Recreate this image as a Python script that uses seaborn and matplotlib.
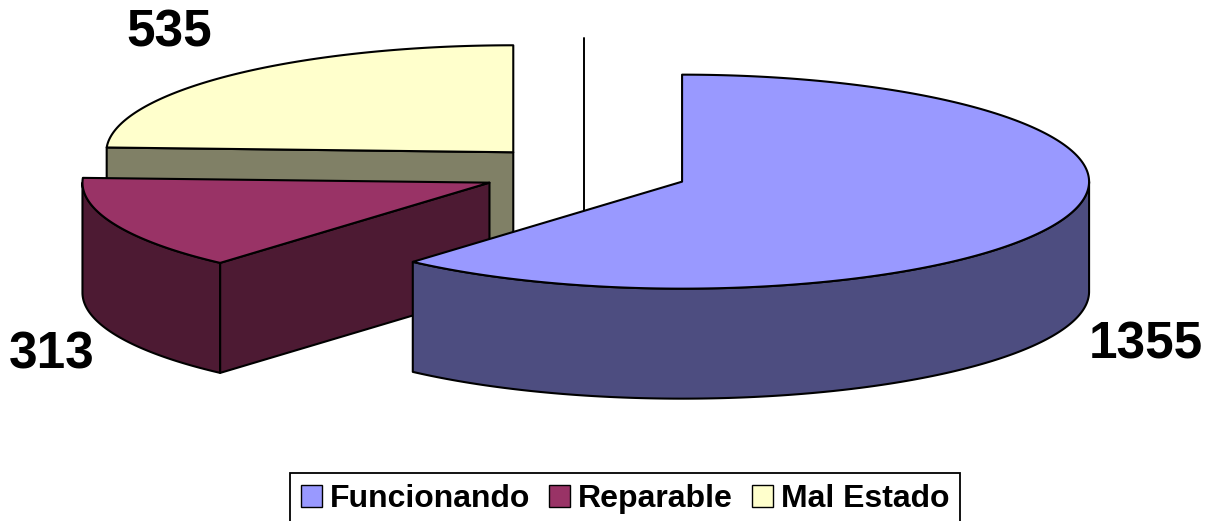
import numpy as np
import matplotlib
matplotlib.use("Agg")
import matplotlib.pyplot as plt
import seaborn as sns
from matplotlib.patches import Polygon, Patch
from matplotlib.font_manager import FontProperties

# data
labels = ["Funcionando", "Reparable", "Mal Estado"]
values = [1355, 313, 535]
top_colors = ["#9999FF", "#993366", "#FFFFCC"]

sns.set_theme(style="white")
plt.rcParams["font.family"] = ["Liberation Sans", "DejaVu Sans"]
plt.rcParams["text.color"] = "black"

# 3d pie geometry (pixel space, y down)
W, H = 1207, 521
C = np.array([585.0, 172.0])   # pie centre
R, r = 407.0, 107.0             # ellipse radii
depth = 110.0                   # thickness
explode = 0.255
edge_kw = dict(edgecolor="black", linewidth=1.5, joinstyle="round")

fig = plt.figure(figsize=(W / 100, H / 100), dpi=100)
ax = fig.add_axes([0, 0, 1, 1])
ax.set_xlim(0, W)
ax.set_ylim(H, 0)
ax.axis("off")


def pt(c, deg, dy=0.0):
    t = np.radians(deg)
    return np.column_stack([c[0] + R * np.sin(t), c[1] - r * np.cos(t) + dy])


def shade(hexcol, f=0.5):
    rgb = np.array(matplotlib.colors.to_rgb(hexcol))
    return tuple(rgb * f)


total = float(sum(values))
bounds = np.concatenate([[0], np.cumsum(values) / total * 360])

slices = []
for i in range(len(values)):
    a0, a1 = bounds[i], bounds[i + 1]
    mid = np.radians((a0 + a1) / 2)
    c = C + explode * np.array([R * np.sin(mid), -r * np.cos(mid)])
    slices.append((a0, a1, c))

# the odd vertical line of the original chart
ax.plot([C[0] - 1, C[0] - 1], [C[1] + 40, 38], color="black", lw=1.4, zorder=1)

order = [2, 1, 0]  # back to front
z = 2
for i in order:
    a0, a1, c = slices[i]
    side = shade(top_colors[i])
    # outer rim, only front half is visible
    lo, hi = max(a0, 90), min(a1, 270)
    if hi > lo:
        angs = np.linspace(lo, hi, 200)
        poly = np.vstack([pt(c, angs), pt(c, angs[::-1], depth)])
        ax.add_patch(Polygon(poly, closed=True, facecolor=side, zorder=z, **edge_kw))
    # radial cut faces
    for a, normal in ((a0, a0 - 90), (a1, a1 + 90)):
        if np.cos(np.radians(normal)) < -1e-6:
            p = pt(c, np.array([a]))[0]
            face = np.array([c, p, p + [0, depth], c + [0, depth]])
            ax.add_patch(Polygon(face, closed=True, facecolor=side, zorder=z, **edge_kw))
    # top
    angs = np.linspace(a0, a1, 300)
    poly = np.vstack([c, pt(c, angs)])
    ax.add_patch(Polygon(poly, closed=True, facecolor=top_colors[i], zorder=z + 1, **edge_kw))
    z += 2

# value labels
label_xy = [(1146, 345), (52, 355), (169, 33)]
for v, (x, y) in zip(values, label_xy):
    ax.text(x, y, str(v), ha="center", va="center", fontsize=37,
            fontweight="bold", color="black", zorder=20)

handles = [Patch(facecolor=col, edgecolor="black", linewidth=1.0) for col in top_colors]
leg = ax.legend(handles, labels, ncol=3, loc="upper center",
                bbox_to_anchor=(625 / W, 1 - 473 / H),
                prop=FontProperties(family="Liberation Sans", weight="bold", size=23),
                frameon=True, fancybox=False, framealpha=1, edgecolor="black",
                labelcolor="black",
                handlelength=0.65, handleheight=0.65, handletextpad=0.25,
                columnspacing=0.6, borderpad=0.35, borderaxespad=0)
leg.get_frame().set_linewidth(1.3)
leg.set_zorder(30)

fig.savefig("out.png", dpi=100, facecolor="white")
